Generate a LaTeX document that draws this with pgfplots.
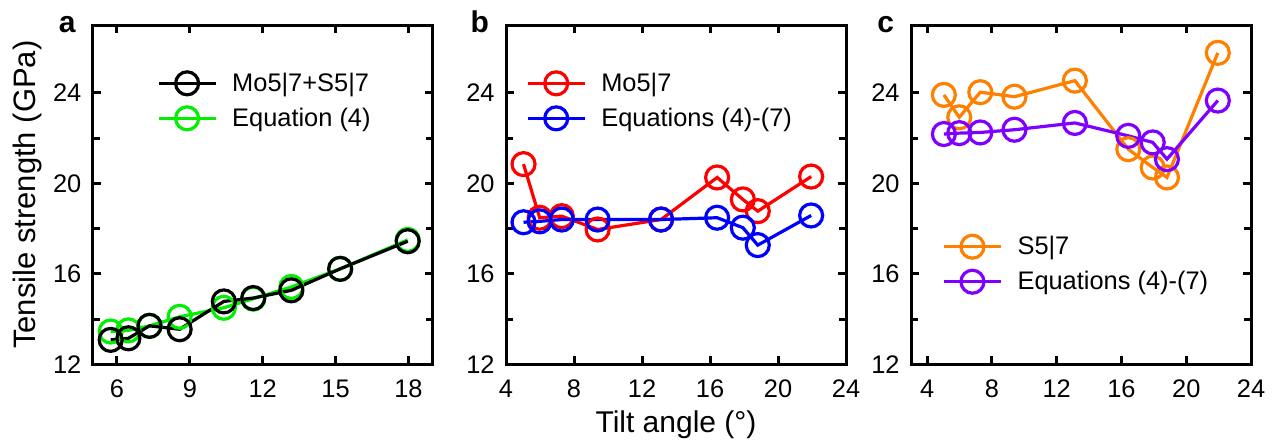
\documentclass[border=0pt]{standalone}
\usepackage{fontspec}
\setmainfont{Liberation Sans}
\usepackage{pgfplots}
\pgfplotsset{compat=1.18}
\definecolor{cgreen}{RGB}{0,240,0}
\definecolor{cred}{RGB}{255,0,0}
\definecolor{cblue}{RGB}{0,0,255}
\definecolor{corange}{RGB}{255,128,0}
\definecolor{cpurple}{RGB}{128,0,255}
\tikzset{pl/.style={line width=1.6pt, mark=o, mark size=5.75pt, mark options={solid, line width=1.6pt}}}
\pgfplotsset{
  panel/.style={
    scale only axis, width=170pt, height=169.65pt, anchor=south west,
    ymin=12, ymax=27, ytick={12,16,20,24}, minor y tick num=1,
    tick align=inside, xtick pos=both, ytick pos=both,
    xticklabel pos=lower, yticklabel pos=left,
    axis line style={line width=1.5pt},
    every tick/.style={line width=1.5pt, black},
    major tick length=4pt, minor tick length=3.5pt,
    tick label style={font=\fontsize{12.7}{15}\selectfont, inner sep=0pt},
    /pgf/number format/assume math mode=true,
    xticklabel style={yshift=-7.5pt},
    yticklabel style={xshift=-5.5pt},
    legend cell align=left,
    legend style={draw=none, fill=none, inner sep=0pt, font=\fontsize{12.7}{15}\selectfont,
      nodes={inner sep=1pt}, column sep=6.5pt, row sep=4.8pt},
    legend image code/.code={\draw[mark repeat=2,mark phase=2] plot coordinates {(0pt,0pt)(14.25pt,0pt)(28.5pt,0pt)};},
    clip=false,
  },
}
\begin{document}
\begin{tikzpicture}
\path[use as bounding box] (0,0) rectangle (638.5pt,223pt);
% panel a
\begin{axis}[panel, at={(46.35pt,40.85pt)},
  xmin=5, xmax=19, xtick={6,9,12,15,18},
  ylabel={Tensile strength (GPa)},
  ylabel style={font=\fontsize{15.5}{18}\selectfont, at={(axis description cs:-0.193,0.5)}, anchor=center, rotate=0},
  reverse legend,
  legend style={at={(axis description cs:0.188,0.7765)}, anchor=west}]
\addplot[pl, color=cgreen] coordinates {(5.74,13.45)(6.47,13.5)(7.34,13.7)(8.58,14.1)(10.40,14.5)(11.61,14.9)(13.18,15.42)(15.19,16.22)(17.97,17.5)};
\addlegendentry{Equation (4)}
\addplot[pl, color=black] coordinates {(5.74,13.08)(6.47,13.15)(7.34,13.70)(8.58,13.55)(10.40,14.78)(11.61,14.93)(13.18,15.27)(15.19,16.22)(17.97,17.44)};
\addlegendentry{Mo5|7+S5|7}
\node[font=\bfseries\fontsize{15}{18}\selectfont, anchor=base east, xshift=-5pt, yshift=-3.5pt] at (rel axis cs:0,1) {a};
\end{axis}
% panel b
\begin{axis}[panel, at={(253pt,40.85pt)},
  xmin=4, xmax=24, xtick={4,8,12,16,20,24},
  xlabel={Tilt angle (°)},
  xlabel style={font=\fontsize{15}{18}\selectfont, at={(axis description cs:0.5,-0.179)}, anchor=center},
  legend style={at={(axis description cs:0.058,0.7765)}, anchor=west}]
\addplot[pl, color=cred] coordinates {(5.03,20.85)(5.98,18.48)(7.28,18.55)(9.39,17.96)(13.12,18.40)(16.42,20.26)(17.93,19.29)(18.81,18.77)(21.95,20.30)};
\addlegendentry{Mo5|7}
\addplot[pl, color=cblue] coordinates {(5.03,18.28)(5.98,18.32)(7.28,18.4)(9.39,18.4)(13.12,18.4)(16.42,18.48)(17.93,18.04)(18.81,17.27)(21.95,18.58)};
\addlegendentry{Equations (4)-(7)}
\node[font=\bfseries\fontsize{15}{18}\selectfont, anchor=base east, xshift=-5pt, yshift=-3.5pt] at (rel axis cs:0,1) {b};
\end{axis}
% panel c
\begin{axis}[panel, at={(455.5pt,40.85pt)},
  xmin=3, xmax=24, xtick={4,8,12,16,20,24},
  legend style={at={(axis description cs:0.091,0.295)}, anchor=west}]
\addplot[pl, color=corange] coordinates {(5.03,23.91)(5.98,22.92)(7.28,24.03)(9.39,23.83)(13.12,24.54)(16.42,21.51)(17.93,20.70)(18.81,20.26)(21.95,25.77)};
\addlegendentry{S5|7}
\addplot[pl, color=cpurple] coordinates {(5.03,22.18)(5.98,22.22)(7.28,22.25)(9.39,22.37)(13.12,22.67)(16.42,22.10)(17.93,21.81)(18.81,21.07)(21.95,23.66)};
\addlegendentry{Equations (4)-(7)}
\node[font=\bfseries\fontsize{15}{18}\selectfont, anchor=base east, xshift=-5pt, yshift=-3.5pt] at (rel axis cs:0,1) {c};
\end{axis}
\end{tikzpicture}
\end{document}
